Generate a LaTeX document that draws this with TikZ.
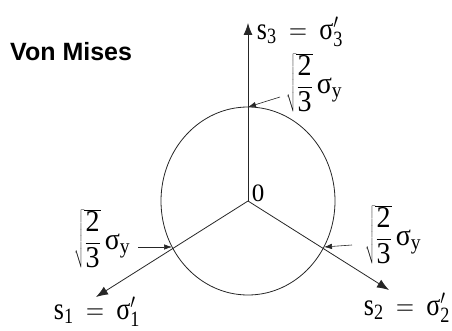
\documentclass[tikz,border=0pt]{standalone}
\usepackage{fontspec}
\setmainfont{Liberation Serif}
\newfontfamily\labelsans{Liberation Sans}
\usetikzlibrary{arrows.meta}
\newcommand\sqlab{\scalebox{1}[1.08]{$\sqrt{\displaystyle\frac{\mathrm{2}}{\mathrm{3}}}\,\mbox{σ}_{\mathrm{y}}$}}
\newcommand\axlab[1]{\scalebox{1}[1.2]{$\mathrm{s}_{\mathrm{#1}}\mskip4mu=\mskip4mu\mbox{σ}'_{\mathrm{#1}}$}}
\begin{document}
\begin{tikzpicture}[x=1pt,y=-1pt,
  line/.style={line width=0.8pt,draw=black!85},
  axis/.style={line,-{Latex[length=12pt,width=9pt]}},
  pointer/.style={line width=0.6pt,draw=black!85,-{Latex[length=8pt,width=5.5pt]}},
  serif/.style={inner sep=0pt,font=\fontsize{26}{28}\selectfont},
  sqserif/.style={inner sep=0pt,font=\fontsize{28}{30}\selectfont},
  title/.style={inner sep=0pt,anchor=west,font=\labelsans\bfseries\fontsize{25}{27}\selectfont}]
\useasboundingbox (0,0) rectangle (452,331);
\coordinate (O) at (248,201);
\coordinate (T3) at (248,23);
\coordinate (T1) at (96,297);
\coordinate (T2) at (389,290);
\coordinate (A3) at (248,107);
\coordinate (A1) at (172,247);
\coordinate (A2) at (324,247);
\coordinate (t3) at (280,97);
\coordinate (t1) at (138,247);
\coordinate (t2) at (352,245);
\draw[line] (O) ellipse [x radius=87pt, y radius=94pt];
\draw[axis] (O) -- (T3);
\draw[axis] (O) -- (T1);
\draw[axis] (O) -- (T2);
\node[title] (vm) at (10,52) {Von Mises};
\node[inner sep=0pt,font=\fontsize{25}{27}\selectfont] (zero) at (258,193) {0};
\node[serif] (s3) at (300,32) {\axlab{3}};
\node[serif] (s1) at (97,312) {\axlab{1}};
\node[serif] (s2) at (407,308) {\axlab{2}};
\node[sqserif] (L3) at (314,83) {\sqlab};
\node[sqserif] (L1) at (102,239) {\sqlab};
\node[sqserif] (L2) at (393,235) {\sqlab};
\draw[pointer] (t3) -- (A3);
\draw[pointer] (t1) -- (A1);
\draw[pointer] (t2) -- (A2);
\end{tikzpicture}
\end{document}
